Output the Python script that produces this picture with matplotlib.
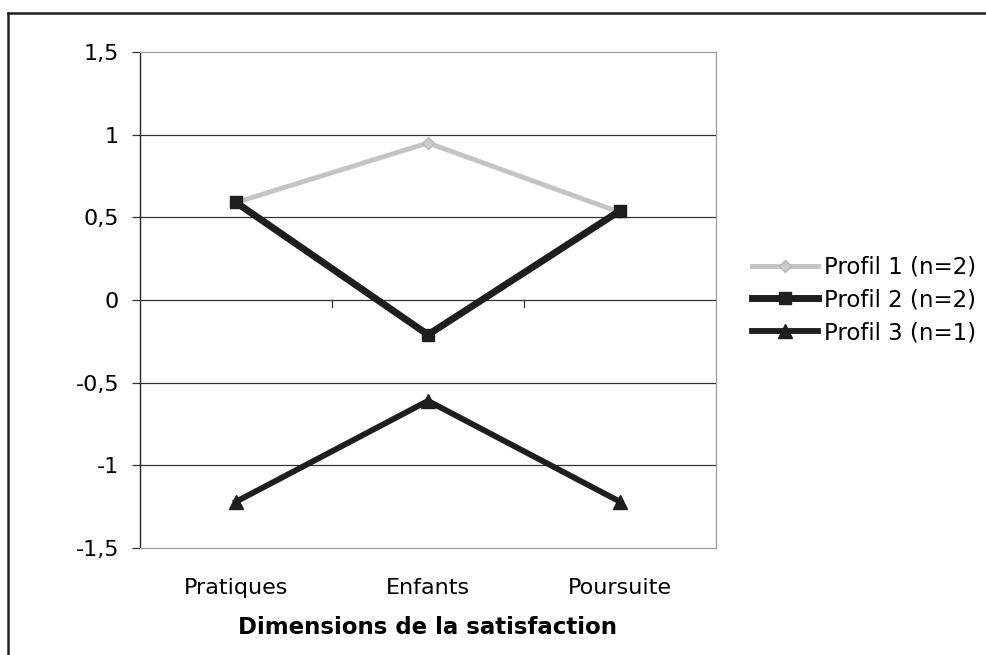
import matplotlib
matplotlib.use("Agg")
import matplotlib.pyplot as plt
import matplotlib.transforms as mtransforms
from matplotlib.lines import Line2D

categories = ["Pratiques", "Enfants", "Poursuite"]
profil1 = [0.59, 0.95, 0.53]
profil2 = [0.59, -0.21, 0.54]
profil3 = [-1.22, -0.61, -1.22]
series_labels = ["Profil 1 (n=2)", "Profil 2 (n=2)", "Profil 3 (n=1)"]
yticks = [-1.5, -1, -0.5, 0, 0.5, 1, 1.5]
ytick_labels = ["-1,5", "-1", "-0,5", "0", "0,5", "1", "1,5"]
xlabel = "Dimensions de la satisfaction"

W, H = 987, 655
plt.rcParams['font.family'] = ['DejaVu Sans']
fig = plt.figure(figsize=(W / 100, H / 100), dpi=100)

# outer frame (left & top visible)
fig.add_artist(Line2D([8 / W, 8 / W], [0, 1 - 13 / H], transform=fig.transFigure, color="#222222", lw=1.8))
fig.add_artist(Line2D([8 / W, 1], [1 - 13 / H, 1 - 13 / H], transform=fig.transFigure, color="#222222", lw=1.8))

left, right, top, bottom = 140, 716, 52, 548
ax = fig.add_axes([left / W, 1 - bottom / H, (right - left) / W, (bottom - top) / H])

x = list(range(len(categories)))
ax.plot(x, profil1, color="#c4c4c4", lw=3.5, marker="D", ms=6, mfc="#cccccc", mec="#b5b5b5",
        label=series_labels[0], zorder=3)
ax.plot(x, profil2, color="#1e1e1e", lw=5, marker="s", ms=9, mfc="#1e1e1e", mec="#1e1e1e",
        label=series_labels[1], zorder=4)
ax.plot(x, profil3, color="#1e1e1e", lw=4.2, marker="^", ms=10, mfc="#1e1e1e", mec="#1e1e1e",
        label=series_labels[2], zorder=4)

ax.set_xlim(-0.5, len(categories) - 0.5)
ax.set_ylim(-1.5, 1.5)

for v in yticks[1:-1]:
    ax.axhline(v, color="#333333", lw=0.9, zorder=1)

ax.set_yticks(yticks)
ax.set_yticklabels(ytick_labels)
ax.tick_params(axis="y", direction="out", length=6, width=0.9, color="#333333", labelsize=16, pad=9)

ax.set_xticks([])
for b in [0.5, 1.5]:
    ax.plot([b, b], [0, -0.04], color="#333333", lw=0.9, zorder=2, clip_on=False)

off = mtransforms.ScaledTranslation(0, -40 / 100, fig.dpi_scale_trans)
for i, c in enumerate(categories):
    ax.text(i, -1.5, c, transform=ax.transData + off, ha="center", va="center", fontsize=16)
ax.text(1, -1.5, xlabel, transform=ax.transData + mtransforms.ScaledTranslation(0, -79 / 100, fig.dpi_scale_trans),
        ha="center", va="center", fontsize=16.5, fontweight="bold")

for s in ["top", "bottom", "right"]:
    ax.spines[s].set_color("#9a9a9a")
    ax.spines[s].set_linewidth(0.9)
ax.spines["left"].set_color("#222222")
ax.spines["left"].set_linewidth(1.0)

leg = ax.legend(loc="center left", bbox_to_anchor=(752 / W, 1 - 300 / H), bbox_transform=fig.transFigure,
                frameon=False, fontsize=16.5, handlelength=2.9, handletextpad=0.25, labelspacing=0.42,
                borderaxespad=0, borderpad=0)

fig.savefig("out.png", dpi=100)
